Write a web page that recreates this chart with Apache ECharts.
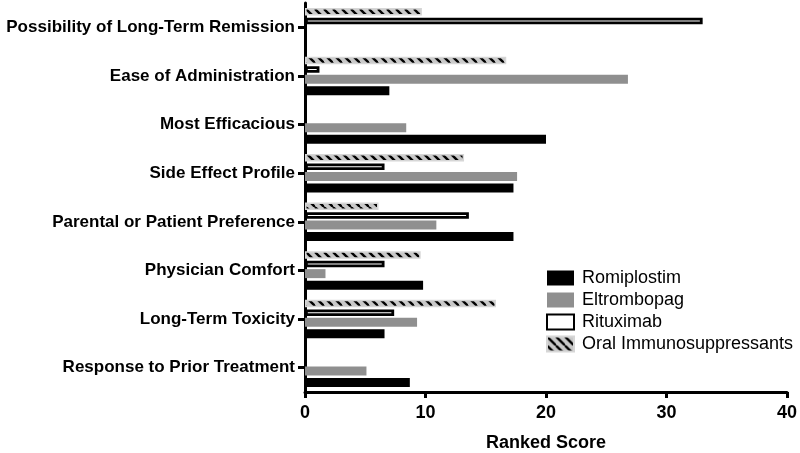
<!DOCTYPE html>
<html>
<head>
<meta charset="utf-8">
<script src="https://cdn.jsdelivr.net/npm/echarts@6/dist/echarts.min.js"></script>
<style>html,body{margin:0;padding:0;background:#fff;}#c{width:800px;height:453px;}</style>
</head>
<body>
<div id="c"></div>
<script>
const categories = ['Possibility of Long-Term Remission','Ease of Administration','Most Efficacious','Side Effect Profile','Parental or Patient Preference','Physician Comfort','Long-Term Toxicity','Response to Prior Treatment'];
const romiplostim = [null, 7.0, 20.0, 17.3, 17.3, 9.8, 6.6, 8.7];
const eltrombopag = [null, 26.8, 8.4, 17.6, 10.9, 1.7, 9.3, 5.1];
const rituximab = [33.0, 1.2, null, 6.6, 13.6, 6.6, 7.4, null];
const oralImmuno = [9.7, 16.7, null, 13.2, 6.1, 9.6, 15.85, null];
const xTicks = [0, 10, 20, 30, 40];
const seriesNames = ['Romiplostim','Eltrombopag','Rituximab','Oral Immunosuppressants'];

const FONT = '"Liberation Sans", Arial, Helvetica, sans-serif';

function hatch() {
  const c = document.createElement('canvas');
  const w = 9, h = 9;
  c.width = w; c.height = h;
  const g = c.getContext('2d');
  g.fillStyle = '#c8c8c8';
  g.fillRect(0, 0, w, h);
  g.strokeStyle = '#000';
  g.lineWidth = 2.4;
  for (const dx of [-w, 0, w]) {
    g.beginPath();
    g.moveTo(dx, 0);
    g.lineTo(dx + w, h);
    g.stroke();
  }
  return c;
}

const chart = echarts.init(document.getElementById('c'), null, {renderer: 'canvas'});
const option = {
  animation: false,
  backgroundColor: '#fff',
  textStyle: {fontFamily: FONT},
  grid: {left: 305, right: 13, top: 3, bottom: 61, containLabel: false, outerBoundsMode: 'none'},
  legend: {
    orient: 'vertical',
    left: 541, top: 264,
    itemWidth: 27, itemHeight: 15, itemGap: 4,
    icon: 'rect',
    data: seriesNames,
    textStyle: {fontFamily: FONT, fontSize: 18, color: '#000', padding: [0,0,0,3]}
  },
  xAxis: {
    type: 'value', min: 0, max: 40, interval: 10,
    name: 'Ranked Score', nameLocation: 'middle', nameGap: 42,
    nameTextStyle: {fontFamily: FONT, fontSize: 18, fontWeight: 'bold', color: '#000'},
    axisLine: {show: true, lineStyle: {color: '#000', width: 3}},
    axisTick: {show: true, length: 6, lineStyle: {color: '#000', width: 3}},
    axisLabel: {fontFamily: FONT, fontSize: 18, fontWeight: 'bold', color: '#000', margin: 12,
      formatter: v => xTicks.includes(v) ? String(v) : ''},
    splitLine: {show: false}
  },
  yAxis: {
    type: 'category', data: categories, inverse: true,
    axisLine: {show: true, lineStyle: {color: '#000', width: 3}},
    axisTick: {show: true, alignWithLabel: true, length: 7, lineStyle: {color: '#000', width: 3}},
    axisLabel: {fontFamily: FONT, fontSize: 17, fontWeight: 'bold', color: '#000', margin: 10},
    splitLine: {show: false}
  },
  series: [
    {name: 'Oral Immunosuppressants', type: 'bar', data: oralImmuno, barWidth: 7.5, barGap: '28%',
      itemStyle: {color: {image: hatch(), repeat: 'repeat'}, borderColor: '#d6d6d6', borderWidth: 1.5}},
    {name: 'Rituximab', type: 'bar', data: rituximab, barWidth: 6.5,
      itemStyle: {color: '#fff', borderColor: '#000', borderWidth: 2.8}},
    {name: 'Eltrombopag', type: 'bar', data: eltrombopag, barWidth: 9,
      itemStyle: {color: '#8f8f8f'}},
    {name: 'Romiplostim', type: 'bar', data: romiplostim, barWidth: 9,
      itemStyle: {color: '#000'}}
  ]
};
chart.setOption(option);
</script>
</body>
</html>
